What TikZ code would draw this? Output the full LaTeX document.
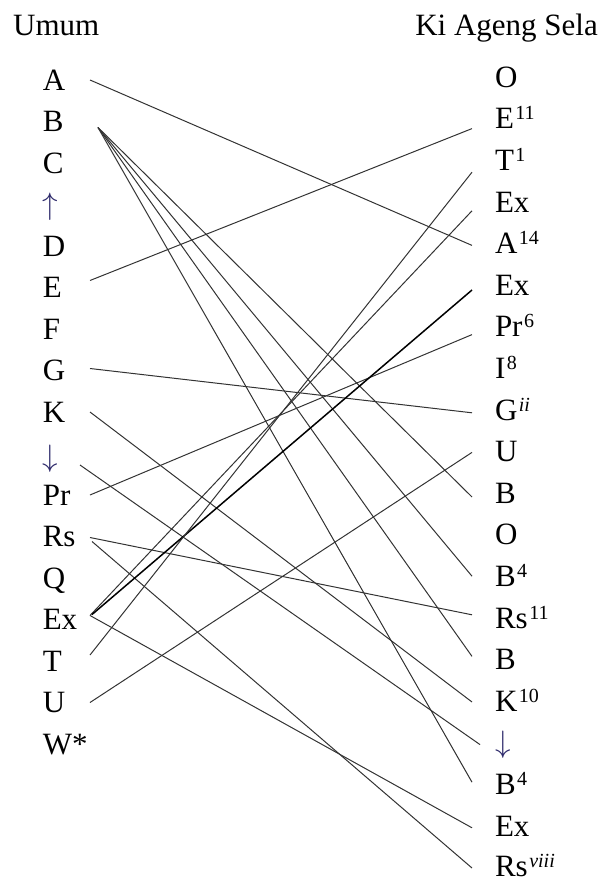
\RequirePackage{fix-cm}
\documentclass[tikz,border=0pt]{standalone}
\usepackage{fontspec}
\setmainfont{Liberation Serif}
\newcommand{\upidx}[1]{\kern1.5pt\raisebox{9pt}{\fontsize{20}{20}\selectfont #1}}
\definecolor{ArrowInk}{HTML}{2E2A6B}

\begin{document}
\begin{tikzpicture}[x=1pt,y=-1pt]
    \tikzstyle{Label} = [
            inner sep=0pt,
            text height=20.5pt,
            text depth=0pt,
            font={\fontsize{31}{36}\selectfont}
    ];
    \tikzstyle{Head} = [
            Label
    ];
    \tikzstyle{LeftItem} = [
            Label,
            anchor=east,
            text width=47pt,
            align=left
    ];
    \tikzstyle{RightItem} = [
            Label,
            anchor=west,
            outer xsep=23pt
    ];
    \tikzstyle{Edge} = [
            draw=black!80,
            line width=1pt
    ];
    \tikzstyle{BoldEdge} = [
            draw=black,
            line width=1.5pt
    ];

    \useasboundingbox (0,0) rectangle (602,882);

    \node[Head, anchor=west, name=HeadL] at (13,25)  {Umum};
    \node[Head, anchor=east, name=HeadR] at (598,25) {Ki Ageng Sela};

    \node[LeftItem, name=lA]    at (90,80)    {A};
    \node[LeftItem, name=lB]    at (90,121.5) {B};
    \node[LeftItem, name=lC]    at (90,163)   {C};
    \node[LeftItem, name=lUp]   at (90,204.5) {\textcolor{ArrowInk}{$\uparrow$}};
    \node[LeftItem, name=lD]    at (90,246)   {D};
    \node[LeftItem, name=lE]    at (90,287.5) {E};
    \node[LeftItem, name=lF]    at (90,329)   {F};
    \node[LeftItem, name=lG]    at (90,370.5) {G};
    \node[LeftItem, name=lK]    at (90,412)   {K};
    \node[LeftItem, name=lDown] at (90,456)   {\textcolor{ArrowInk}{$\downarrow$}};
    \node[LeftItem, name=lPr]   at (90,495)   {Pr};
    \node[LeftItem, name=lRs]   at (90,536.5) {Rs};
    \node[LeftItem, name=lQ]    at (90,578)   {Q};
    \node[LeftItem, name=lEx]   at (90,619.5) {Ex};
    \node[LeftItem, name=lT]    at (90,661)   {T};
    \node[LeftItem, name=lU]    at (90,702.5) {U};
    \node[LeftItem, name=lW]    at (90,744)   {W*};

    \node[RightItem, name=rO]    at (472,77)    {O};
    \node[RightItem, name=rE]    at (472,118.6) {E\upidx{11}};
    \node[RightItem, name=rT]    at (472,160.2) {T\upidx{1}};
    \node[RightItem, name=rExa]  at (472,201.8) {Ex};
    \node[RightItem, name=rA]    at (472,243.4) {A\upidx{14}};
    \node[RightItem, name=rExb]  at (472,285)   {Ex};
    \node[RightItem, name=rPr]   at (472,326.6) {Pr\upidx{6}};
    \node[RightItem, name=rI]    at (472,368.2) {I\upidx{8}};
    \node[RightItem, name=rG]    at (472,409.8) {G\upidx{\textit{ii}}};
    \node[RightItem, name=rU]    at (472,451.4) {U};
    \node[RightItem, name=rBa]   at (472,493)   {B};
    \node[RightItem, name=rOb]   at (472,534.6) {O};
    \node[RightItem, name=rBb]   at (472,576.2) {B\upidx{4}};
    \node[RightItem, name=rRs]   at (472,617.8) {Rs\upidx{11}};
    \node[RightItem, name=rBc]   at (472,659.4) {B};
    \node[RightItem, name=rK]    at (472,701)   {K\upidx{10}};
    \node[RightItem, name=rDown] at (472,742.6) {\textcolor{ArrowInk}{$\downarrow$}};
    \node[RightItem, name=rBd]   at (472,784.2) {B\upidx{4}};
    \node[RightItem, name=rExc]  at (472,825.8) {Ex};
    \node[RightItem, name=rRsb]  at (472,866)   {Rs\upidx{\textit{viii}}};

    \path (lA.east)                         edge [Edge]     ([yshift=-2pt]rA.west)
          ([xshift=8pt,yshift=-6pt]lB.east)  edge [Edge]     ([yshift=-4pt]rBa.west)
          ([xshift=8pt,yshift=-6pt]lB.east)  edge [Edge]     (rBb.west)
          ([xshift=8pt,yshift=-6pt]lB.east)  edge [Edge]     ([yshift=3pt]rBc.west)
          ([xshift=8pt,yshift=-6pt]lB.east)  edge [Edge]     ([yshift=2pt]rBd.west)
          ([yshift=7pt]lE.east)              edge [Edge]     ([yshift=-10pt]rE.west)
          ([yshift=2pt]lG.east)              edge [Edge]     ([yshift=-3pt]rG.west)
          (lK.east)                         edge [Edge]     ([yshift=-1pt]rK.west)
          ([xshift=-10pt,yshift=-9pt]lDown.east) edge [Edge] ([xshift=8pt,yshift=-2pt]rDown.west)
          (lPr.east)                        edge [Edge]     ([yshift=-8pt]rPr.west)
          ([yshift=-1pt]lRs.east)            edge [Edge]     ([yshift=3pt]rRs.west)
          ([xshift=2pt,yshift=-5pt]lRs.east) edge [Edge]     ([yshift=-2pt]rRsb.west)
          ([yshift=4pt]lEx.east)             edge [Edge]     ([yshift=-9pt]rExa.west)
          ([xshift=2pt,yshift=5pt]lEx.east)  edge [BoldEdge] ([yshift=-5pt]rExb.west)
          ([yshift=4pt]lEx.east)             edge [Edge]     ([yshift=-2pt]rExc.west)
          ([yshift=6pt]lT.east)              edge [Edge]     ([yshift=-12pt]rT.west)
          (lU.east)                         edge [Edge]     ([yshift=-1pt]rU.west);
\end{tikzpicture}
\end{document}
